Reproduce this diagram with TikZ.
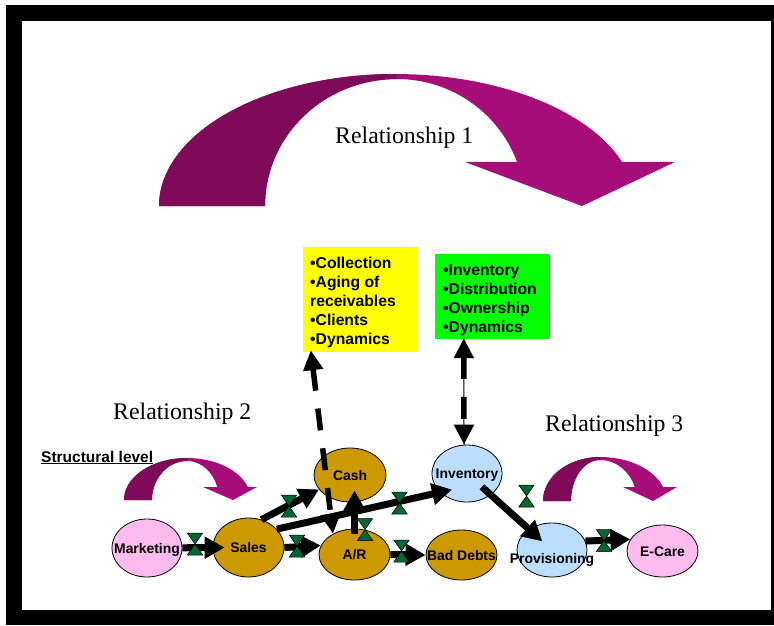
\documentclass[tikz,border=0pt]{standalone}
\usepackage{fontspec}
\setmainfont{Liberation Serif}
\newfontfamily\arialfont{Liberation Sans}
\usetikzlibrary{shapes.geometric,arrows.meta,calc}

\definecolor{magdark}{RGB}{128,10,90}
\definecolor{magbright}{RGB}{166,13,120}
\definecolor{pinkfill}{RGB}{255,187,238}
\definecolor{goldfill}{RGB}{204,153,0}
\definecolor{bluefill}{RGB}{187,222,255}
\definecolor{valvegreen}{RGB}{0,102,51}
\definecolor{boxgreen}{RGB}{0,255,0}
\definecolor{boxyellow}{RGB}{255,255,0}

\tikzset{
  state/.style={ellipse, draw=black, line width=0.8pt, inner sep=0pt},
  lbl/.style={font=\arialfont\bfseries\fontsize{13.9}{16}\selectfont, inner sep=0pt, text height=10pt, text depth=0pt},
  boxtxt/.style={font=\arialfont\bfseries\fontsize{15.7}{19}\selectfont, inner sep=0pt, anchor=base west},
  reltxt/.style={font=\fontsize{23.8}{28}\selectfont, inner sep=0pt, anchor=base west},
  flow/.style={line width=7pt, -{Triangle[length=20pt,width=21pt]}},
  dflow/.style={line width=5.5pt, dash pattern=on 22pt off 18pt,
    {Triangle[length=20pt,width=19pt]}-{Triangle[length=20pt,width=19pt]}},
  valve/.pic={\filldraw[fill=valvegreen, draw=black, line width=0.5pt]
    (-7.75,-11) -- (7.75,-11) -- (-7.75,11) -- (7.75,11) -- cycle;}
}

\begin{document}
\begin{tikzpicture}[x=1pt,y=-1pt]
\useasboundingbox (0,0) rectangle (774,625);

% frame
\fill[black] (6,5) rectangle (774,625);
\fill[white] (22,21) rectangle (771,610);

% large curved arrow
\fill[magbright]
  plot[domain=180:270,samples=40] ({395+236*cos(\x)},{206+132*sin(\x)})
  -- plot[domain=270:340.5,samples=30] ({395+241*cos(\x)},{206+132*sin(\x)})
  -- (675,162) -- (582,206) -- (465,162)
  -- plot[domain=339.7:270,samples=30] ({397+128*cos(\x)},{206+127*sin(\x)})
  -- plot[domain=270:180,samples=40] ({397+132*cos(\x)},{206+127*sin(\x)})
  -- cycle;
\fill[magdark]
  plot[domain=180:270,samples=40] ({395+236*cos(\x)},{206+132*sin(\x)})
  -- plot[domain=270:180,samples=40] ({397+132*cos(\x)},{206+127*sin(\x)})
  -- cycle;

% small curved arrow, left
\fill[magbright]
  plot[domain=180:270,samples=30] ({187+63*cos(\x)},{500+42*sin(\x)})
  -- plot[domain=270:341.97,samples=20] ({187+64*cos(\x)},{500+42*sin(\x)})
  -- (257,487) -- (233,500) -- (203,487)
  -- plot[domain=340.53:270,samples=20] ({187+32*cos(\x)},{500+39*sin(\x)})
  -- plot[domain=270:180,samples=30] ({187+35*cos(\x)},{500+39*sin(\x)})
  -- cycle;
\fill[magdark]
  plot[domain=180:270,samples=30] ({187+63*cos(\x)},{500+42*sin(\x)})
  -- plot[domain=270:180,samples=30] ({187+35*cos(\x)},{500+39*sin(\x)})
  -- cycle;

% small curved arrow, right
\fill[magbright]
  plot[domain=180:270,samples=30] ({600+57*cos(\x)},{501+44*sin(\x)})
  -- plot[domain=270:341.45,samples=20] ({600+66.5*cos(\x)},{501+44*sin(\x)})
  -- (677,487) -- (653,501) -- (623,487)
  -- plot[domain=340.03:270,samples=20] ({600+37*cos(\x)},{501+41*sin(\x)})
  -- plot[domain=270:180,samples=30] ({600+29*cos(\x)},{501+41*sin(\x)})
  -- cycle;
\fill[magdark]
  plot[domain=180:270,samples=30] ({600+57*cos(\x)},{501+44*sin(\x)})
  -- plot[domain=270:180,samples=30] ({600+29*cos(\x)},{501+41*sin(\x)})
  -- cycle;

% headings
\node[reltxt] (rel1) at (335,143) {Relationship 1};
\node[reltxt] (rel2) at (113,419) {Relationship 2};
\node[reltxt] (rel3) at (545,431) {Relationship 3};
\node[font=\arialfont\bfseries\fontsize{15.5}{18}\selectfont, inner sep=0pt, anchor=base west]
  (struct) at (41,462) {\underline{Structural level}};

% note boxes
\node[fill=boxyellow, minimum width=115pt, minimum height=105pt, inner sep=0pt] (ybox) at (360.5,299.5) {};
\foreach \t [count=\i] in {{•Collection},{•Aging of},{receivables},{•Clients},{•Dynamics}}
  \node[boxtxt] (yline\i) at (310,{268+19*(\i-1)}) {\t};
\node[fill=boxgreen, minimum width=115pt, minimum height=85pt, inner sep=0pt] (gbox) at (492.5,296.5) {};
\foreach \t [count=\i] in {{•Inventory},{•Distribution},{•Ownership},{•Dynamics}}
  \node[boxtxt] (gline\i) at (443,{275+19.3*(\i-1)}) {\t};

% stocks
\node[state, fill=pinkfill, minimum width=70pt, minimum height=58pt, label={[lbl]center:Marketing}] (mkt) at (147,548) {};
\node[state, fill=goldfill, minimum width=71pt, minimum height=59pt, label={[lbl]center:Sales}] (sales) at (248.5,547.5) {};
\node[state, fill=goldfill, minimum width=72pt, minimum height=54pt, label={[lbl]center:Cash}] (cash) at (350,475) {};
\node[state, fill=goldfill, minimum width=71pt, minimum height=51pt, label={[lbl]center:A/R}] (ar) at (354.5,554.5) {};
\node[state, fill=goldfill, minimum width=71pt, minimum height=50pt, label={[lbl]center:Bad Debts}] (bad) at (461.5,555) {};
\node[state, fill=bluefill, minimum width=70pt, minimum height=57pt, label={[lbl]center:Inventory}] (inv) at (467,473.5) {};
\node[state, fill=bluefill, minimum width=70pt, minimum height=54pt, label={[lbl,yshift=-8pt]center:Provisioning}] (prov) at (552,550) {};
\node[state, fill=pinkfill, minimum width=71pt, minimum height=52pt, label={[lbl]center:E-Care}] (ecare) at (662.5,551) {};

% flows
\draw[flow] (mkt) -- ($(sales.west)+(12,0)$);
\draw[flow] (sales.65) -- (cash.205);
\draw[flow] (sales.33) -- ($(inv.center)!0.7!(inv.227)$);
\draw[flow] (sales.east) -- (ar.165);
\draw[flow] ($(ar.north)+(0,5)$) -- ($(cash.south)+(4.5,-12)$);
\draw[flow] (ar.east) -- (bad.west);
\draw[flow] ($(inv.center)!20pt!(prov.center)$) -- ($(prov.center)!13pt!(inv.center)$);
\draw[flow] (prov.15) -- (ecare.160);

% links to the note boxes
\draw[dflow] ($(ybox.south west)+(8,-2)$) -- (ar.136);
\draw[line width=1pt] ($(gbox.south west)+(29,-1)$) -- ($(inv.north)+(-3,0)$);
\draw[dflow] ($(gbox.south west)+(29,-1)$) -- ($(inv.north)+(-3,0)$);

% valves
\pic at (195,544) {valve};
\pic at (289,506) {valve};
\pic at (297,546) {valve};
\pic at (399.5,503) {valve};
\pic at (365,529.5) {valve};
\pic at (401.5,551) {valve};
\pic at (526.5,496) {valve};
\pic at (604,540.5) {valve};
\end{tikzpicture}
\end{document}
